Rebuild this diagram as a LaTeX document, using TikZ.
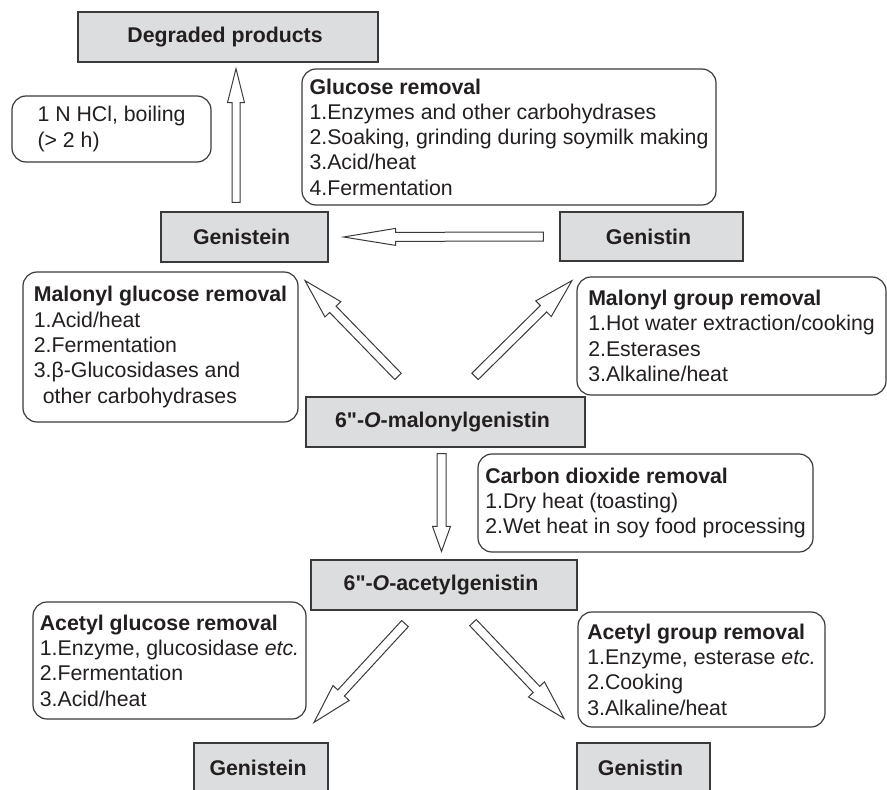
\documentclass[tikz,border=0pt]{standalone}
\usepackage{fontspec}
\setmainfont{Liberation Sans}
\usepackage{xcolor}
\usepackage{tikz}
\usetikzlibrary{
  calc
}
\definecolor{BoxGray}{HTML}{DCDDDE}
\definecolor{EdgeGray}{HTML}{3A3A3A}
\definecolor{InkDark}{HTML}{231F20}
\tikzset{
  box/.style={
    draw=EdgeGray,
    line width=1.2pt,
    align=left,
    text=InkDark,
    inner sep=0pt,
    font=\fontsize{21.3}{25.3}\selectfont
  },
  compound/.style={
    box,
    fill=BoxGray,
    align=center,
    font=\fontsize{21.3}{25.3}\selectfont\bfseries
  },
  process/.style={
    box,
    rounded corners=14pt,
    fill=white
  },
  conversion/.style={
    draw=EdgeGray,
    line width=1pt,
    fill=white,
    line join=miter
  }
}
\newcommand{\convarrow}[5]{%
  \path #1 coordinate (tail) #2 coordinate (tip);
  \coordinate (base) at ($(tip)!#5!(tail)$);
  \draw[conversion]
    ($(tail)!#3!90:(tip)$) --
    ($(base)!#3!-90:(tail)$) --
    ($(base)!#4!-90:(tail)$) --
    (tip) --
    ($(base)!#4!90:(tail)$) --
    ($(base)!#3!90:(tail)$) --
    ($(tail)!#3!-90:(tip)$) --
    cycle;
}

\begin{document}
\begin{tikzpicture}[x=1pt, y=-1pt]

  \useasboundingbox (0,0) rectangle (887,790);

  \node[
    compound,
    minimum width=300pt,
    minimum height=50pt
  ] (degraded) at (228,37) {
    Degraded products
  };

  \node[
    process,
    minimum width=199pt,
    minimum height=66pt
  ] (hcl) at (111.5,129) {
    1 N HCl, boiling\\
    (> 2 h)
  };

  \node[
    process,
    minimum width=414pt,
    minimum height=136pt
  ] (glucose) at (509,137) {
    \textbf{Glucose removal}\\
    1.Enzymes and other carbohydrases\\
    2.Soaking, grinding during soymilk making\\
    3.Acid/heat\\
    4.Fermentation
  };

  \node[
    compound,
    minimum width=167pt,
    minimum height=50pt
  ] (genistein) at (244.5,237) {
    Genistein
  };

  \node[
    compound,
    minimum width=183pt,
    minimum height=49pt
  ] (genistin) at (651.5,236.5) {
    Genistin
  };

  \node[
    process,
    minimum width=275pt,
    minimum height=150pt
  ] (malglc) at (160.5,347) {
    \textbf{Malonyl glucose removal}\\
    1.Acid/heat\\
    2.Fermentation\\
    3.β-Glucosidases and\\
    \hspace{9pt}other carbohydrases
  };

  \node[
    process,
    minimum width=309pt,
    minimum height=118pt
  ] (malgrp) at (731.5,336) {
    \textbf{Malonyl group removal}\\
    1.Hot water extraction/cooking\\
    2.Esterases\\
    3.Alkaline/heat
  };

  \node[
    compound,
    minimum width=279pt,
    minimum height=50pt
  ] (malonyl) at (445.5,422) {
    6\textquotedbl-\textit{O}-malonylgenistin
  };

  \node[
    process,
    minimum width=335pt,
    minimum height=98pt
  ] (carbon) at (645.5,503) {
    \textbf{Carbon dioxide removal}\\
    1.Dry heat (toasting)\\
    2.Wet heat in soy food processing
  };

  \node[
    compound,
    minimum width=266pt,
    minimum height=50pt
  ] (acetyl) at (444,585) {
    6\textquotedbl-\textit{O}-acetylgenistin
  };

  \node[
    process,
    minimum width=273pt,
    minimum height=117pt
  ] (acglc) at (169.5,660.5) {
    \textbf{Acetyl glucose removal}\\
    1.Enzyme, glucosidase \textit{etc.}\\
    2.Fermentation\\
    3.Acid/heat
  };

  \node[
    process,
    minimum width=247pt,
    minimum height=115pt
  ] (acgrp) at (701.5,669.5) {
    \textbf{Acetyl group removal}\\
    1.Enzyme, esterase \textit{etc.}\\
    2.Cooking\\
    3.Alkaline/heat
  };

  \node[
    compound,
    minimum width=134pt,
    minimum height=50pt
  ] (genisteinB) at (261,768) {
    Genistein
  };

  \node[
    compound,
    minimum width=133pt,
    minimum height=50pt
  ] (genistinB) at (643.5,768) {
    Genistin
  };

  \convarrow{([xshift=-8.5pt,yshift=9pt]genistein.north)}
    {([xshift=8pt,yshift=-6pt]degraded.south)}{4pt}{8.5pt}{34pt}

  \convarrow{([xshift=-16pt]genistin.west)}
    {([xshift=15pt]genistein.east)}{4.5pt}{8.5pt}{52pt}

  \convarrow{([xshift=-47.5pt,yshift=20pt]malonyl.north)}
    {([xshift=60.5pt,yshift=-18pt]genistein.south)}{4.5pt}{11pt}{40pt}

  \convarrow{([xshift=29.5pt,yshift=20pt]malonyl.north)}
    {([xshift=-79.5pt,yshift=-19pt]genistin.south)}{4.5pt}{11pt}{40pt}

  \convarrow{([xshift=-4pt,yshift=-6pt]malonyl.south)}
    {([xshift=-2.5pt,yshift=8pt]acetyl.north)}{4.5pt}{9pt}{25pt}

  \convarrow{([xshift=-39pt,yshift=-13pt]acetyl.south)}
    {([xshift=53pt,yshift=20pt]genisteinB.north)}{4.5pt}{11pt}{40pt}

  \convarrow{([xshift=29pt,yshift=-12pt]acetyl.south)}
    {([xshift=-79.5pt,yshift=24pt]genistinB.north)}{4.5pt}{11pt}{40pt}

\end{tikzpicture}
\end{document}
